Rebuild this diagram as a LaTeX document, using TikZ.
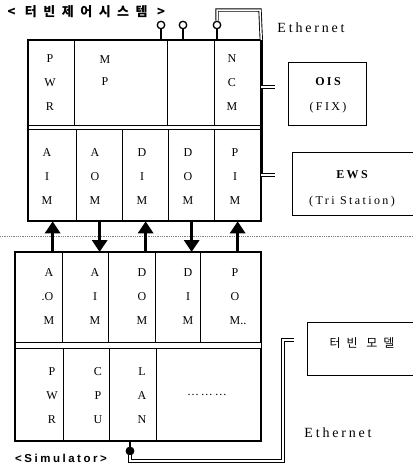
\documentclass[tikz,border=0pt]{standalone}
\usepackage{fontspec}
\setmainfont{Liberation Serif}
\newfontfamily\wide[LetterSpace=20]{Liberation Serif}
\newfontfamily\simfont[LetterSpace=22]{Liberation Sans}
\newfontfamily\kor[LetterSpace=50]{Noto Sans CJK KR}
\usetikzlibrary{calc, positioning}
\usetikzlibrary{arrows.meta}

\begin{document}
\begin{tikzpicture}[x=1pt, y=-1pt,
  cell/.style={draw, line width=1.3pt, inner sep=0pt, anchor=north west},
  mod/.style={align=center, inner sep=0pt, font=\fontsize{12}{24}\selectfont},
  station/.style={draw, line width=1.3pt, inner sep=0pt, anchor=north west},
  cable/.style={double, double distance=1.5pt, line width=0.9pt},
  flow/.style={-{Triangle[length=12pt, width=15pt]}, line width=3.5pt},
  tap/.style={circle, draw, line width=1.3pt, minimum size=7.5pt, inner sep=0pt, fill=white}]
\clip (0,0) rectangle (413,467);

% turbine control system rack
\node[cell, minimum width=46, minimum height=85] (pwr) at (28,40) {};
\node[cell, minimum width=93, minimum height=85] (mp) at (74,40) {};
\node[cell, minimum width=47, minimum height=85] (spare) at (167,40) {};
\node[cell, minimum width=46, minimum height=85] (ncm) at (214,40) {};

\node[cell, minimum width=48, minimum height=91] (aim) at (28,129) {};
\node[cell, minimum width=46, minimum height=91] (aom) at (76,129) {};
\node[cell, minimum width=46, minimum height=91] (dim) at (122,129) {};
\node[cell, minimum width=46, minimum height=91] (dom) at (168,129) {};
\node[cell, minimum width=46, minimum height=91] (pim) at (214,129) {};
\draw[line width=1.3pt] (pwr.north west) rectangle (pim.south east);

\node[mod] (tPWR) at (50,83) {P\\W\\R};
\node[mod, font=\fontsize{12}{22}\selectfont] (tMP) at (105,71) {M\\P};
\node[mod] (tNCM) at (232,83) {N\\C\\M};
\node[mod] (tAIM) at (47,177) {A\\I\\M};
\node[mod] (tAOM) at (95,177) {A\\O\\M};
\node[mod] (tDIM) at (142,177) {D\\I\\M};
\node[mod] (tDOM) at (188,177) {D\\O\\M};
\node[mod] (tPIM) at (235,177) {P\\I\\M};

% simulator rack
\node[cell, minimum width=47, minimum height=90] (saom) at (15,252) {};
\node[cell, minimum width=46, minimum height=90] (saim) at (62,252) {};
\node[cell, minimum width=47, minimum height=90] (sdom) at (108,252) {};
\node[cell, minimum width=45, minimum height=90] (sdim) at (155,252) {};
\node[cell, minimum width=60, minimum height=90] (spom) at (200,252) {};

\node[cell, minimum width=48, minimum height=92] (spwr) at (15,348) {};
\node[cell, minimum width=46, minimum height=92] (scpu) at (63,348) {};
\node[cell, minimum width=47, minimum height=92] (slan) at (109,348) {};
\node[cell, minimum width=104, minimum height=92] (sdots) at (156,348) {};
\draw[line width=1.3pt] (saom.north west) rectangle (sdots.south east);

\node[mod] (sAOM) at (49,297) {A\\\llap{.}O\\M};
\node[mod] (sAIM) at (95,297) {A\\I\\M};
\node[mod] (sDOM) at (142,297) {D\\O\\M};
\node[mod] (sDIM) at (188,297) {D\\I\\M};
\node[mod] (sPOM) at (235,297) {P\\O\\M\rlap{..}};
\node[mod] (sPWR) at (52,396) {P\\W\\R};
\node[mod] (sCPU) at (98,396) {C\\P\\U};
\node[mod] (sLAN) at (142,396) {L\\A\\N};
\node[mod] (sMore) at (207,395) {\ldots\,\ldots\,\ldots};

% signal exchange
\draw[gray, densely dotted, line width=0.8pt] (0,236) -- (413,236);
\draw[flow] (aim.south |- saom.north) -- (aim.south);
\draw[flow] (aom.south) -- (aom.south |- saim.north);
\draw[flow] (dim.south |- sdom.north) -- (dim.south);
\draw[flow] (dom.south) -- (dom.south |- sdim.north);
\draw[flow] (pim.south |- spom.north) -- (pim.south);

% stations
\node[station, minimum width=78, minimum height=63] (ois) at (288,62) {};
\node[font=\wide\bfseries\fontsize{12}{14}\selectfont] (oisT) at (328,82) {OIS};
\node[font=\wide\fontsize{12}{14}\selectfont] (oisS) at (328,108) {(FIX)};
\node[station, minimum width=130, minimum height=63] (ews) at (292,152) {};
\node[font=\wide\bfseries\fontsize{12}{14}\selectfont] (ewsT) at (352,175) {EWS};
\node[font=\wide\fontsize{12}{14}\selectfont] (ewsS) at (352,202) {(Tri Station)};
\node[station, minimum width=120, minimum height=53] (tm) at (307,322) {};
\node[font=\kor\fontsize{12}{14}\selectfont] (tmT) at (362,343) {터빈 모델};

% ethernet
\coordinate (ethTop) at (260,10);
\coordinate (oisTap) at (275,87);
\coordinate (ewsTap) at (275,175);
\coordinate (simCorner) at (283,461);
\coordinate (tmTap) at (294,340);

\node[tap] (tap1) at (161,25) {};
\node[tap] (tap2) at (183,25) {};
\node[tap] (tap3) at (217,25) {};
\draw[line width=1.3pt] (tap1.south) -- (tap1 |- mp.north);
\draw[line width=1.3pt] (tap2.south) -- (tap2 |- mp.north);
\draw[line width=1.3pt] (tap3.south) -- (tap3 |- ncm.north);
\draw[cable] (tap3.north) |- (ethTop) -- (ncm.north east);
\draw[line width=3.2pt] (ncm.north east) -- (ncm.north east |- ewsTap);
\draw[cable] (ncm.north east |- oisTap) -- (oisTap);
\draw[cable] (ncm.north east |- ewsTap) -- (ewsTap);

\node[tap, fill=black] (tap4) at (130,451) {};
\draw[line width=1.3pt] (tap4.north) -- (tap4 |- slan.south);
\draw[cable] (tap4.south) |- (simCorner) -- (simCorner |- tmTap) -- (tmTap);

\node[font=\wide\fontsize{14}{16}\selectfont] (eth1) at (311,28) {Ethernet};
\node[font=\wide\fontsize{14}{16}\selectfont] (eth2) at (338,433) {Ethernet};

% labels
\node[anchor=west, font=\kor\bfseries\fontsize{13}{15}\selectfont] (title) at (4,12) {<\ 터빈제어시스템\ >};
\node[font=\simfont\bfseries\fontsize{11.5}{13}\selectfont] (sim) at (61,458) {<Simulator>};
\end{tikzpicture}
\end{document}
